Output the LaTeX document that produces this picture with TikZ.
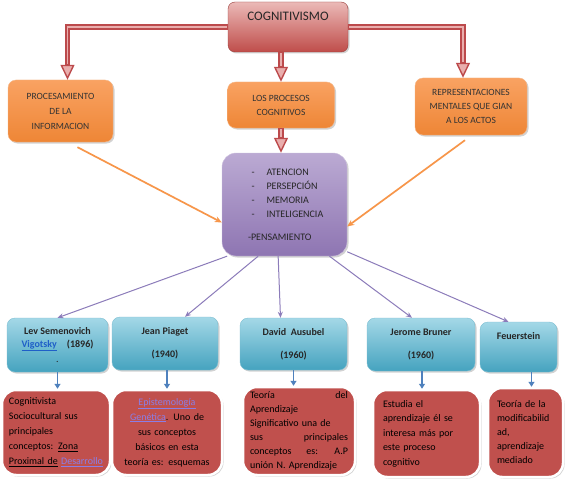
\documentclass[tikz,border=0pt]{standalone}
\usepackage{fontspec}
\setmainfont{Carlito}
\usetikzlibrary{arrows.meta,shadows}
\definecolor{cogtop}{HTML}{EBB9B7}
\definecolor{cogbot}{HTML}{BF4D4A}
\definecolor{redline}{HTML}{BC4A4C}
\definecolor{pinkin}{HTML}{E9AEAD}
\definecolor{orgtop}{HTML}{F9A262}
\definecolor{orgmid}{HTML}{FCC597}
\definecolor{orgbot}{HTML}{EE8636}
\definecolor{purtop}{HTML}{BBAAD3}
\definecolor{purbot}{HTML}{8E75B2}
\definecolor{blutop}{HTML}{A4D8E7}
\definecolor{blubot}{HTML}{45A3BF}
\definecolor{boxred}{HTML}{C0504D}
\definecolor{linkblue}{HTML}{1F5FC8}
\definecolor{linkvio}{HTML}{8A7EE6}
\definecolor{purline}{HTML}{8C7CBA}
\definecolor{bluline}{HTML}{4F81BD}
\definecolor{orgline}{HTML}{F7964A}
\tikzset{
  shad/.style={drop shadow={shadow xshift=1.5pt, shadow yshift=-1.5pt, opacity=0.35}},
  cogv/.style={shad, draw=cogbot!80!black, rounded corners=7pt, top color=cogtop, bottom color=cogbot,
               minimum width=120pt, minimum height=50pt, align=center, text=black!85,
               font=\fontsize{13}{12}\selectfont},
  orv/.style={shad, draw=orgbot!60, rounded corners=8pt, top color=orgtop, middle color=orgmid, bottom color=orgbot,
              align=center, text=black!80},                                  % orange box
  puv/.style={shad, draw=purtop!70!white, rounded corners=14pt, top color=purtop, bottom color=purbot,
              minimum width=125pt, minimum height=103pt, text=black!85,
              font=\fontsize{10}{14}\selectfont},
  blv/.style={shad, draw=blubot!70!white, rounded corners=8pt, top color=blutop, bottom color=blubot,
              align=center, text=black!85, font=\fontsize{10}{13}\selectfont\bfseries}, % author box
  rdv/.style={shad, draw=white, line width=2.5pt, rounded corners=14pt, fill=boxred,
              text=black, font=\fontsize{10}{15}\selectfont},                % note box
  ra/.style={draw=redline, line width=5.5pt,
             -{Triangle[length=15pt, width=14pt, fill=pinkin, line width=1.4pt]},
             postaction={draw=pinkin, line width=1.6pt, -, shorten >=16pt, shorten <=1pt}},
  oe/.style={draw=orgline, line width=1.7pt, -{Stealth[length=7pt, width=6pt]}},  % orange link
  pe/.style={draw=purline, line width=1pt, -{Stealth[length=6pt, width=5pt]}},    % purple link
  be/.style={draw=bluline, line width=1.5pt, -{Triangle[length=5pt, width=6pt]}}, % blue link
}
\begin{document}
\begin{tikzpicture}[x=1pt, y=-1pt]
  \fill[white] (0,0) rectangle (573,487);
  \node[cogv] (cog) at (288,27) {COGNITIVISMO\\[9pt]~};
  \node[orv, minimum width=105pt, minimum height=62pt, font=\fontsize{9.5}{15}\selectfont] (proc) at (60.5,111)
    {PROCESAMIENTO\\DE LA\\INFORMACION};
  \node[orv, minimum width=107pt, minimum height=46pt, font=\fontsize{9.5}{14}\selectfont] (los) at (281,105)
    {LOS PROCESOS\\COGNITIVOS};
  \node[orv, minimum width=112pt, minimum height=57pt, font=\fontsize{9.5}{14}\selectfont] (rep) at (471,106.5)
    {REPRESENTACIONES\\MENTALES QUE GIAN\\A LOS ACTOS};
  \node[puv, text width=80pt, align=left] (pur) at (284.5,204.5)
    {\hspace*{7pt}-\hspace{12pt}ATENCION\\
     \hspace*{7pt}-\hspace{12pt}PERSEPCIÓN\\
     \hspace*{7pt}-\hspace{12pt}MEMORIA\\
     \hspace*{7pt}-\hspace{12pt}INTELIGENCIA\\[9pt]
     \hspace*{3.5pt}-PENSAMIENTO};
  \node[blv, minimum width=101pt, minimum height=54pt] (lev) at (57.5,345)
    {Lev Semenovich\\\textcolor{linkblue}{\underline{Vigotsky}}\hspace{10pt}(1896)\\[2pt]\mdseries .};
  \node[blv, minimum width=106pt, minimum height=53pt] (pia) at (165,343.5) {Jean Piaget\\[10pt](1940)};
  \node[blv, minimum width=107pt, minimum height=52pt] (aus) at (293.5,344) {David\ \ Ausubel\\[10pt](1960)};
  \node[blv, minimum width=108pt, minimum height=53pt] (bru) at (421,344.5) {Jerome Bruner\\[10pt](1960)};
  \node[blv, minimum width=77pt, minimum height=50pt] (feu) at (518.5,347) {Feuerstein\\[10pt]~};
  \node[rdv, minimum width=108pt, minimum height=85pt, text width=94pt, align=left] (r1) at (56,432.5)
    {Cognitivista\\Sociocultural sus\\principales\\conceptos: \underline{Zona}\\
     \mbox{\underline{Proximal de} \textcolor{linkvio}{\underline{Desarrollo}}}};
  \node[rdv, minimum width=110pt, minimum height=85pt, text width=96pt, align=center] (r2) at (167,432.5)
    {\textcolor{linkvio}{\underline{Epistemología}}\\\textcolor{linkvio}{\underline{Genética}}. Uno de\\
     sus conceptos\\básicos en esta\\teoría es: esquemas};
  \node[rdv, minimum width=112pt, minimum height=88pt, text width=98pt, align=left,
        font=\fontsize{10}{14}\selectfont] (r3) at (299,431)
    {Teoría \hfill del\\Aprendizaje\\Significativo una de\\sus \hfill principales\\
     conceptos \hfill es: \hfill A.P\\unión N. Aprendizaje};
  \node[rdv, minimum width=107pt, minimum height=87pt, text width=87pt, align=left,
        font=\fontsize{10}{14.5}\selectfont] (r4) at (426.5,433.5)
    {Estudia el\\aprendizaje él se\\interesa más por\\este proceso\\cognitivo};
  \node[rdv, minimum width=75pt, minimum height=89pt, text width=57pt, align=left,
        font=\fontsize{10}{14}\selectfont] (r5) at (525.5,432.5)
    {Teoría de la\\modificabilid\\ad,\\aprendizaje\\mediado};
  % red hollow arrows
  \draw[ra] (cog.west) -| ([xshift=7pt]proc.north);
  \draw[ra] (cog.east) -| ([xshift=-8pt]rep.north);
  \draw[ra] (cog.south -| los.north) -- (los.north);
  \draw[ra] (los.south) -- (los.south |- pur.north);
  % orange links
  \draw[oe] ([xshift=17pt, yshift=-5pt]proc.south) -- ([yshift=-18pt]pur.west);
  \draw[oe] ([xshift=-6pt, yshift=-5pt]rep.south) -- ([yshift=-22pt]pur.east);
  % purple links and blue links
  \foreach \a/\t/\d in {222/lev/0, 243/pia/20, 263/aus/-13, 311/bru/-9, 323/feu/-10}
    \draw[pe] (pur.\a) -- ([xshift=\d pt]\t.north);
  \foreach \b/\r/\d in {lev/r1/0, pia/r2/2, aus/r3/0, bru/r4/1, feu/r5/13}
    \draw[be] ([xshift=\d pt]\b.south) -- ([xshift=\d pt]\b.south |- \r.north);
\end{tikzpicture}
\end{document}
